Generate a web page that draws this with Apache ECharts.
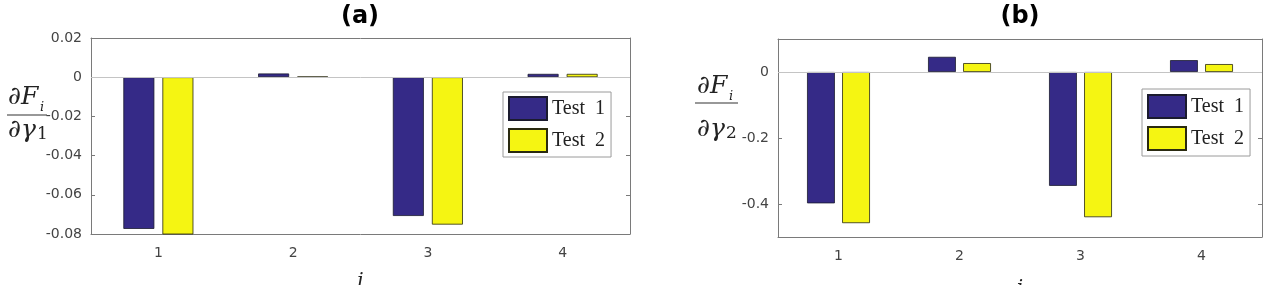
<!DOCTYPE html>
<html>
<head>
<meta charset="utf-8">
<script src="https://cdn.jsdelivr.net/npm/echarts@6/dist/echarts.min.js"></script>
<style>
html,body{margin:0;padding:0;background:#fff;}
#chart{width:1279px;height:285px;}
</style>
</head>
<body>
<div id="chart"></div>
<script>
// ---- data ----
var categories = ['1', '2', '3', '4'];
var seriesNames = ['Test 1', 'Test 2'];
// panel (a): dF_i / d gamma_1
var a_test1 = [-0.0774, 0.0019, -0.0708, 0.0017];
var a_test2 = [-0.0805, 0.0003, -0.0752, 0.0017];
// panel (b): dF_i / d gamma_2
var b_test1 = [-0.398, 0.046, -0.345, 0.036];
var b_test2 = [-0.458, 0.027, -0.440, 0.024];
var a_yTicks = [-0.08, -0.06, -0.04, -0.02, 0, 0.02];
var b_yTicks = [-0.4, -0.2, 0];

var BLUE = '#352a87', YELLOW = '#f5f512';
var AXIS = '#7a7a7a';
var labelFont = 'DejaVu Sans';
var labelColor = '#444';

function fmt(v){ if (Math.abs(v) < 1e-9) return '0'; return String(+v.toFixed(2)); }

function xAxes(grid, gap){
  return [
    {gridIndex: grid, type:'category', data: categories, position:'bottom',
     axisLine:{onZero:false, lineStyle:{color:AXIS, width:1}},
     axisTick:{inside:true, alignWithLabel:true, length:4, lineStyle:{color:AXIS}},
     axisLabel:{color:labelColor, fontFamily:labelFont, fontSize:14, margin:12},
     name:'i', nameLocation:'middle', nameGap:gap,
     nameTextStyle:{fontFamily:'DejaVu Serif', fontStyle:'italic', fontSize:20, color:'#222'}},
    {gridIndex: grid, type:'category', data: categories, position:'top',
     axisLine:{onZero:false, lineStyle:{color:AXIS, width:1}},
     axisTick:{inside:true, alignWithLabel:true, length:4, lineStyle:{color:AXIS}},
     axisLabel:{show:false}}
  ];
}

var option = {
  animation:false,
  backgroundColor:'#fff',
  grid:[
    {left:91, top:38, width:539, height:196, outerBoundsMode:'none', containLabel:false},
    {left:778, top:39, width:484, height:198, outerBoundsMode:'none', containLabel:false}
  ],
  xAxis: xAxes(0, 38).concat(xAxes(1, 42)),
  yAxis:[
    {gridIndex:0, type:'value', min:-0.08, max:0.02, interval:0.02,
     axisLine:{show:true, onZero:false, lineStyle:{color:AXIS}},
     axisTick:{show:true, inside:true, length:4, lineStyle:{color:AXIS}},
     splitLine:{show:false},
     axisLabel:{color:labelColor, fontFamily:labelFont, fontSize:14, margin:9, formatter:fmt}},
    {gridIndex:0, type:'value', position:'right', min:-0.08, max:0.02, interval:0.02,
     axisLine:{show:true, onZero:false, lineStyle:{color:AXIS}},
     axisTick:{show:true, inside:true, length:4, lineStyle:{color:AXIS}},
     splitLine:{show:false}, axisLabel:{show:false}},
    {gridIndex:1, type:'value', min:-0.5, max:0.1,
     axisLine:{show:true, onZero:false, lineStyle:{color:AXIS}},
     axisTick:{show:true, inside:true, length:4, lineStyle:{color:AXIS}, customValues:b_yTicks},
     splitLine:{show:false},
     axisLabel:{color:labelColor, fontFamily:labelFont, fontSize:14, margin:9, formatter:fmt, customValues:b_yTicks}},
    {gridIndex:1, type:'value', position:'right', min:-0.5, max:0.1,
     axisLine:{show:true, onZero:false, lineStyle:{color:AXIS}},
     axisTick:{show:true, inside:true, length:4, lineStyle:{color:AXIS}, customValues:b_yTicks},
     splitLine:{show:false}, axisLabel:{show:false}}
  ],
  legend:[
    {data:seriesNames, orient:'vertical', left:503, top:92, itemWidth:38, itemHeight:23, itemGap:7,
     icon:'rect', padding:[4,6,4,5], borderColor:'#9a9a9a', borderWidth:1, backgroundColor:'#fff',
     selectedMode:false, formatter:function(n){return n.replace(' ', '  ');},
     textStyle:{fontFamily:'Liberation Serif', fontSize:20, color:'#222'}},
    {data:seriesNames, orient:'vertical', left:1142, top:89, itemWidth:38, itemHeight:23, itemGap:7,
     icon:'rect', padding:[5,6,5,5], borderColor:'#9a9a9a', borderWidth:1, backgroundColor:'#fff',
     selectedMode:false, formatter:function(n){return n.replace(' ', '  ');},
     textStyle:{fontFamily:'Liberation Serif', fontSize:20, color:'#222'}}
  ],
  series:[
    {name:seriesNames[0], type:'bar', xAxisIndex:0, yAxisIndex:0, data:a_test1, barWidth:'23%', barGap:'26%',
     itemStyle:{color:BLUE, borderColor:'#1b1b2e', borderWidth:0.8},
     markLine:{silent:true, symbol:'none', label:{show:false}, data:[{yAxis:0}],
               lineStyle:{color:'#c4c4c4', type:'solid', width:1}}},
    {name:seriesNames[1], type:'bar', xAxisIndex:0, yAxisIndex:0, data:a_test2, barWidth:'23%', barGap:'26%',
     itemStyle:{color:YELLOW, borderColor:'#2a2a10', borderWidth:0.8}},
    {name:seriesNames[0], type:'bar', xAxisIndex:2, yAxisIndex:2, data:b_test1, barWidth:'23%', barGap:'26%',
     itemStyle:{color:BLUE, borderColor:'#1b1b2e', borderWidth:0.8},
     markLine:{silent:true, symbol:'none', label:{show:false}, data:[{yAxis:0}],
               lineStyle:{color:'#c4c4c4', type:'solid', width:1}}},
    {name:seriesNames[1], type:'bar', xAxisIndex:2, yAxisIndex:2, data:b_test2, barWidth:'23%', barGap:'26%',
     itemStyle:{color:YELLOW, borderColor:'#2a2a10', borderWidth:0.8}}
  ],
  graphic:[
    {type:'text', x:360, y:17, style:{text:'(a)', textAlign:'center', textVerticalAlign:'middle',
      font:'bold 24px "DejaVu Sans"', fill:'#000'}},
    {type:'text', x:1020, y:17, style:{text:'(b)', textAlign:'center', textVerticalAlign:'middle',
      font:'bold 24px "DejaVu Sans"', fill:'#000'}},
    // y-axis label (a)
    {type:'text', x:8, y:85, style:{text:'∂F', font:'italic 25px "DejaVu Serif"', fill:'#222'}},
    {type:'text', x:40, y:101, style:{text:'i', font:'italic 13px "DejaVu Serif"', fill:'#222'}},
    {type:'line', shape:{x1:7, y1:115, x2:47, y2:115}, style:{stroke:'#333', lineWidth:1.2}},
    {type:'text', x:8, y:118, style:{text:'∂γ', font:'italic 25px "DejaVu Serif"', fill:'#222'}},
    {type:'text', x:37, y:126, style:{text:'1', font:'17px "DejaVu Serif"', fill:'#222'}},
    // y-axis label (b)
    {type:'text', x:697, y:74, style:{text:'∂F', font:'italic 25px "DejaVu Serif"', fill:'#222'}},
    {type:'text', x:729, y:90, style:{text:'i', font:'italic 13px "DejaVu Serif"', fill:'#222'}},
    {type:'line', shape:{x1:695, y1:103, x2:738, y2:103}, style:{stroke:'#333', lineWidth:1.2}},
    {type:'text', x:697, y:117, style:{text:'∂γ', font:'italic 25px "DejaVu Serif"', fill:'#222'}},
    {type:'text', x:726, y:125, style:{text:'2', font:'17px "DejaVu Serif"', fill:'#222'}}
  ]
};

var chart = echarts.init(document.getElementById('chart'), null, {renderer:'canvas'});
chart.setOption(option);
</script>
</body>
</html>
